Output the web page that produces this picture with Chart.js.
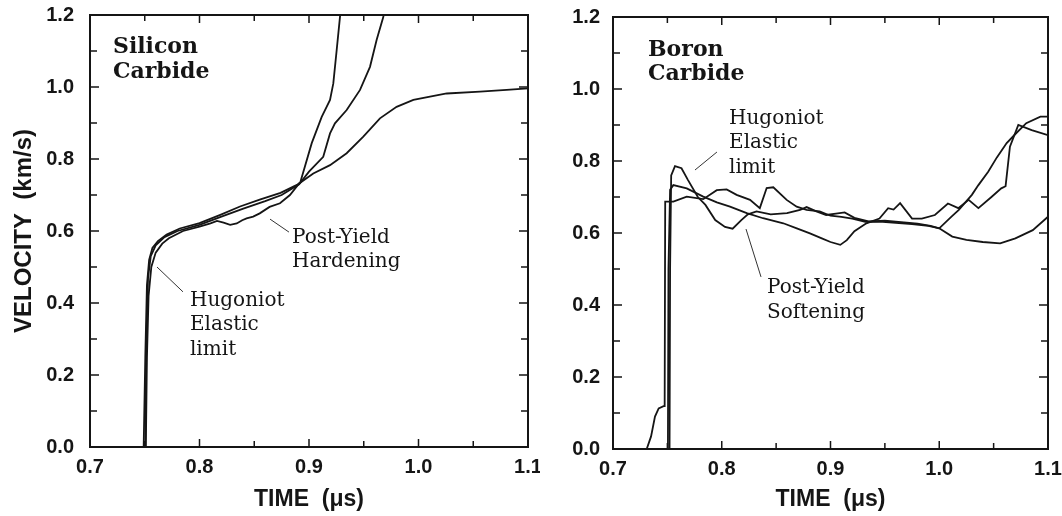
<!DOCTYPE html>
<html>
<head>
<meta charset="utf-8">
<script src="https://cdn.jsdelivr.net/npm/chart.js@4.4.1/dist/chart.umd.min.js"></script>
<style>
  body { margin: 0; background: #fff; }
  #wrap { position: relative; width: 1062px; height: 516px; }
  .panel { position: absolute; top: 0; }
  #left { left: 0; }
  #right { left: 531px; }
</style>
</head>
<body>
<div id="wrap">
  <div class="panel" id="left"><canvas id="sic" width="540" height="516"></canvas></div>
  <div class="panel" id="right"><canvas id="b4c" width="531" height="516"></canvas></div>
</div>
<script>
// axis ticks (time in microseconds, velocity in km/s)
const timeTicks = [0.7, 0.8, 0.9, 1.0, 1.1];
const velocityTicks = [0.0, 0.2, 0.4, 0.6, 0.8, 1.0, 1.2];

// silicon carbide velocity records [time, velocity]
const sicShot1 = [[0.738,0],[0.749,0],[0.7505,0.25],[0.752,0.45],[0.754,0.52],[0.757,0.553],[0.762,0.572],[0.770,0.59],
  [0.782,0.607],[0.80,0.622],[0.819,0.645],[0.837,0.668],[0.855,0.687],[0.874,0.706],[0.889,0.728],[0.892,0.735],
  [0.9025,0.844],[0.9116,0.917],[0.9192,0.964],[0.9222,1.01],[0.9253,1.103],[0.9283,1.195],[0.93,1.25]];
const sicShot2 = [[0.738,0],[0.7505,0],[0.7515,0.3],[0.753,0.47],[0.7555,0.53],[0.760,0.56],[0.768,0.583],[0.78,0.60],
  [0.80,0.617],[0.82,0.64],[0.84,0.662],[0.86,0.683],[0.875,0.70],[0.891,0.73],[0.90,0.765],[0.913,0.806],
  [0.9192,0.871],[0.9237,0.899],[0.9344,0.936],[0.9466,0.992],[0.9557,1.056],[0.9618,1.131],[0.9679,1.195],[0.97,1.25]];
const sicShot3 = [[0.738,0],[0.751,0],[0.752,0.25],[0.7535,0.42],[0.756,0.50],[0.76,0.54],[0.766,0.565],[0.772,0.58],
  [0.785,0.60],[0.80,0.612],[0.81,0.621],[0.816,0.628],[0.822,0.623],[0.828,0.617],[0.834,0.621],[0.839,0.63],
  [0.843,0.635],[0.849,0.64],[0.855,0.649],[0.864,0.667],[0.8735,0.677],[0.8826,0.70],[0.891,0.732],[0.9039,0.760],
  [0.9192,0.783],[0.9344,0.816],[0.9496,0.862],[0.9648,0.913],[0.98,0.945],[0.9953,0.964],[1.0105,0.973],
  [1.0258,0.982],[1.0562,0.987],[1.0805,0.992],[1.1,0.996]];

// boron carbide velocity records [time, velocity]
const b4cShot1 = [[0.70,0],[0.752,0],[0.7525,0.5],[0.7535,0.76],[0.757,0.786],[0.763,0.78],[0.769,0.747],[0.778,0.70],
  [0.785,0.678],[0.794,0.636],[0.803,0.617],[0.810,0.612],[0.818,0.636],[0.824,0.652],[0.832,0.66],[0.845,0.652],
  [0.86,0.655],[0.872,0.664],[0.878,0.672],[0.887,0.66],[0.896,0.65],[0.905,0.654],[0.913,0.657],[0.922,0.642],
  [0.935,0.632],[0.95,0.634],[0.965,0.63],[0.98,0.626],[0.992,0.62],[1.0,0.613],[1.012,0.59],[1.025,0.581],
  [1.04,0.575],[1.056,0.571],[1.07,0.585],[1.086,0.608],[1.1,0.645]];
const b4cShot2 = [[0.70,0],[0.7505,0],[0.751,0.5],[0.7525,0.72],[0.7555,0.733],[0.7678,0.724],[0.783,0.701],
  [0.7955,0.685],[0.8076,0.673],[0.823,0.655],[0.838,0.641],[0.8566,0.627],[0.869,0.613],[0.8811,0.599],
  [0.892,0.585],[0.90,0.575],[0.909,0.567],[0.915,0.58],[0.922,0.605],[0.933,0.627],[0.945,0.64],[0.953,0.669],
  [0.958,0.665],[0.964,0.683],[0.975,0.64],[0.984,0.64],[0.996,0.65],[1.008,0.682],[1.0175,0.669],[1.027,0.692],
  [1.036,0.669],[1.048,0.70],[1.057,0.724],[1.061,0.73],[1.065,0.84],[1.0727,0.90],[1.085,0.886],[1.1,0.872]];
const b4cShot3 = [[0.70,0],[0.731,0],[0.735,0.035],[0.7386,0.09],[0.742,0.113],[0.7465,0.119],[0.7475,0.119],
  [0.748,0.687],[0.7555,0.687],[0.7678,0.701],[0.783,0.694],[0.7954,0.719],[0.8045,0.721],[0.8137,0.706],
  [0.826,0.692],[0.835,0.669],[0.8413,0.725],[0.8474,0.727],[0.8597,0.692],[0.8689,0.673],[0.878,0.664],
  [0.89,0.66],[0.90,0.648],[0.91,0.645],[0.92,0.64],[0.932,0.631],[0.945,0.632],[0.96,0.628],[0.975,0.625],
  [0.99,0.62],[1.0,0.613],[1.011,0.645],[1.018,0.664],[1.03,0.706],[1.036,0.733],[1.045,0.77],[1.053,0.81],
  [1.062,0.85],[1.07,0.875],[1.08,0.905],[1.093,0.923],[1.1,0.923]];

// in-plot labels, placed in data units (first line baseline)
const sicNotes = [
  { lines: ['Silicon', 'Carbide'], t: 0.721, v: 1.094, bold: true },
  { lines: ['Hugoniot', 'Elastic', 'limit'], t: 0.7913, v: 0.392 },
  { lines: ['Post-Yield', 'Hardening'], t: 0.8845, v: 0.567 }
];
const sicLeaders = [[0.7849, 0.431, 0.7612, 0.50], [0.8644, 0.633, 0.8817, 0.597]];
const b4cNotes = [
  { lines: ['Boron', 'Carbide'], t: 0.7322, v: 1.092, bold: true },
  { lines: ['Hugoniot', 'Elastic', 'limit'], t: 0.8067, v: 0.903 },
  { lines: ['Post-Yield', 'Softening'], t: 0.8416, v: 0.433 }
];
const b4cLeaders = [[0.7956, 0.825, 0.7754, 0.775], [0.8223, 0.611, 0.8361, 0.478]];

const ink = '#151515';

// closed frame with inward ticks on all four sides
const frameTicks = {
  id: 'frameTicks',
  afterDatasetsDraw(chart) {
    const { ctx, chartArea: a, scales: { x, y } } = chart;
    ctx.save();
    ctx.strokeStyle = ink;
    ctx.lineWidth = 1.5;
    ctx.beginPath();
    for (let i = 0; i < timeTicks.length; i++) {
      const marks = [[timeTicks[i], 8]];
      if (i < timeTicks.length - 1) marks.push([(timeTicks[i] + timeTicks[i + 1]) / 2, 6]);
      marks.forEach(([t, len]) => {
        const px = x.getPixelForValue(t);
        ctx.moveTo(px, a.bottom); ctx.lineTo(px, a.bottom - len);
        ctx.moveTo(px, a.top); ctx.lineTo(px, a.top + len);
      });
    }
    for (let i = 0; i < velocityTicks.length; i++) {
      const marks = [[velocityTicks[i], 9]];
      if (i < velocityTicks.length - 1) marks.push([(velocityTicks[i] + velocityTicks[i + 1]) / 2, 7]);
      marks.forEach(([v, len]) => {
        const py = y.getPixelForValue(v);
        ctx.moveTo(a.left, py); ctx.lineTo(a.left + len, py);
        ctx.moveTo(a.right, py); ctx.lineTo(a.right - len, py);
      });
    }
    ctx.stroke();
    ctx.lineWidth = 2;
    ctx.strokeRect(a.left, a.top, a.right - a.left, a.bottom - a.top);
    ctx.restore();
  }
};

function notesPlugin(notes, leaders) {
  return {
    id: 'notes',
    afterDatasetsDraw(chart) {
      const { ctx, scales: { x, y } } = chart;
      ctx.save();
      ctx.fillStyle = ink;
      ctx.textAlign = 'left';
      ctx.textBaseline = 'alphabetic';
      notes.forEach(n => {
        ctx.font = n.bold ? 'bold 22px "DejaVu Serif"' : '20px "DejaVu Serif"';
        const px = x.getPixelForValue(n.t);
        const py = y.getPixelForValue(n.v);
        n.lines.forEach((s, i) => ctx.fillText(s, px, py + i * 24.5));
      });
      ctx.strokeStyle = '#333';
      ctx.lineWidth = 1;
      ctx.beginPath();
      leaders.forEach(([t1, v1, t2, v2]) => {
        ctx.moveTo(x.getPixelForValue(t1), y.getPixelForValue(v1));
        ctx.lineTo(x.getPixelForValue(t2), y.getPixelForValue(v2));
      });
      ctx.stroke();
      ctx.restore();
    }
  };
}

function panelChart(canvasId, curves, cfg) {
  const tickFont = { family: '"Liberation Sans", Arial, sans-serif', size: 20, weight: 'bold' };
  return new Chart(document.getElementById(canvasId), {
    type: 'line',
    data: {
      datasets: curves.map(c => ({
        data: c.map(p => ({ x: p[0], y: p[1] })),
        borderColor: ink,
        borderWidth: 1.8,
        pointRadius: 0,
        tension: 0,
        fill: false
      }))
    },
    options: {
      responsive: false,
      animation: false,
      layout: { padding: { top: cfg.top, right: cfg.right, left: 0, bottom: 0 } },
      plugins: { legend: { display: false }, tooltip: { enabled: false } },
      scales: {
        x: {
          type: 'linear', min: 0.7, max: 1.1,
          grid: { display: false, drawTicks: false },
          border: { display: false },
          afterBuildTicks: s => { s.ticks = timeTicks.map(v => ({ value: v })); },
          ticks: { padding: 8, color: ink, font: tickFont, maxRotation: 0, autoSkip: false,
                   callback: v => Number(v).toFixed(1) },
          title: { display: true, text: 'TIME  (\u03bcs)', color: ink,
                   font: { family: '"Liberation Sans", Arial, sans-serif', size: 23, weight: 'bold' },
                   padding: { top: 0, bottom: 3 } },
          afterFit: s => { s.height = cfg.xHeight; s.paddingLeft = 0; s.paddingRight = 0; }
        },
        y: {
          type: 'linear', min: 0, max: 1.2,
          grid: { display: false, drawTicks: false },
          border: { display: false },
          afterBuildTicks: s => { s.ticks = velocityTicks.map(v => ({ value: v })); },
          ticks: { padding: cfg.yPad, color: ink, font: tickFont,
                   callback: v => Number(v).toFixed(1) },
          title: { display: cfg.yTitle, text: 'VELOCITY  (km/s)', color: ink,
                   font: { family: '"Liberation Sans", Arial, sans-serif', size: 24, weight: 'bold' },
                   padding: { top: 10, bottom: 0 } },
          afterFit: s => { s.width = cfg.yWidth; s.paddingTop = 0; s.paddingBottom = 0; }
        }
      }
    },
    plugins: [frameTicks, notesPlugin(cfg.notes, cfg.leaders)]
  });
}

panelChart('sic', [sicShot1, sicShot2, sicShot3], {
  top: 15, right: 12, xHeight: 69, yWidth: 90, yPad: 16, yTitle: true,
  notes: sicNotes, leaders: sicLeaders
});
panelChart('b4c', [b4cShot1, b4cShot2, b4cShot3], {
  top: 17, right: 14, xHeight: 67, yWidth: 82, yPad: 13, yTitle: false,
  notes: b4cNotes, leaders: b4cLeaders
});
</script>
</body>
</html>
